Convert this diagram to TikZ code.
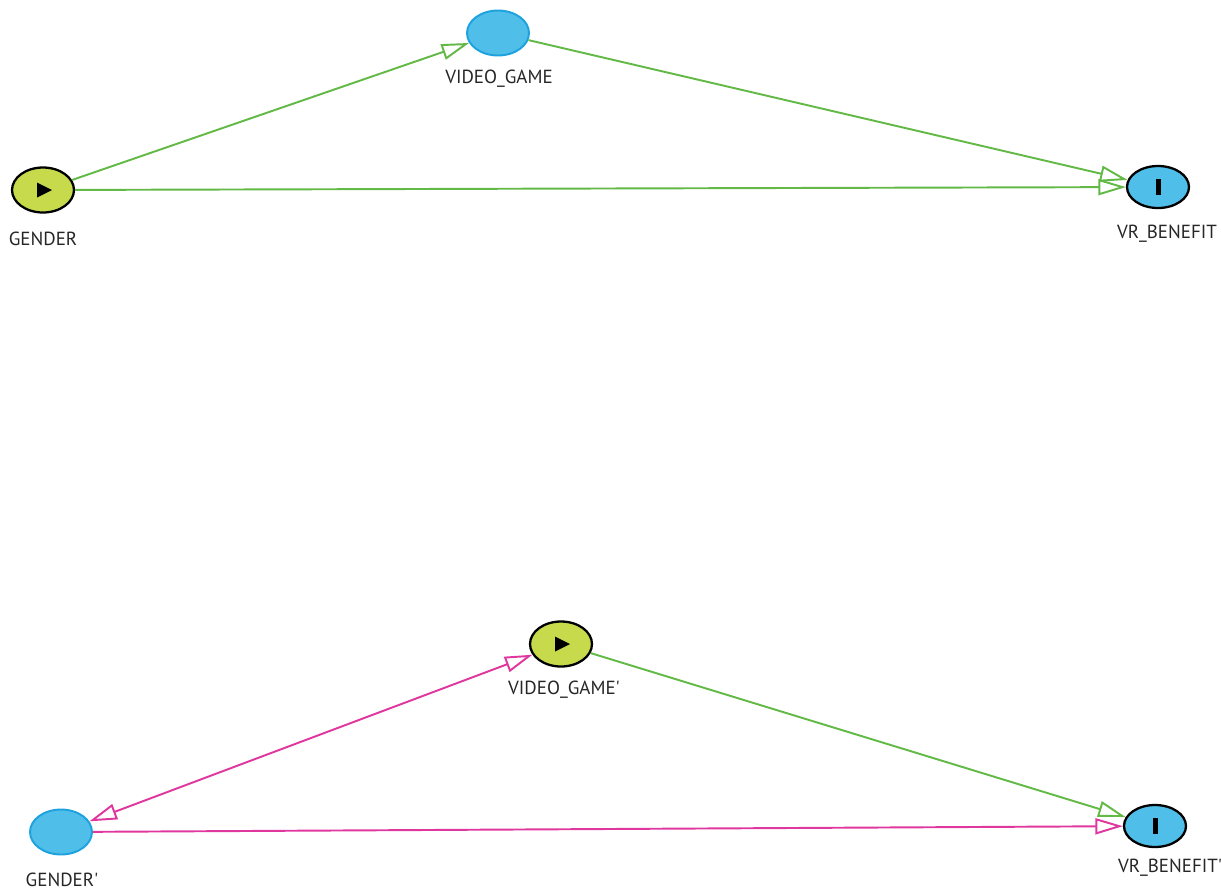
\documentclass[tikz,border=0pt]{standalone}
\usepackage{fontspec}
\setmainfont{PT Sans}
\usepackage{tikz}
\usetikzlibrary{shapes.geometric,arrows.meta}

\definecolor{edgegreen}{HTML}{62B946}
\definecolor{edgepink}{HTML}{E0379E}
\definecolor{nodegreen}{HTML}{C6DA4B}
\definecolor{nodeblue}{HTML}{4FBEE9}
\definecolor{rimblue}{HTML}{1DA2DF}
\definecolor{labelgrey}{HTML}{262626}

\tikzset{
  var/.style={ellipse,minimum width=1.24cm,minimum height=0.9cm,inner sep=0pt},
  exposure/.style={var,fill=nodegreen,draw=black,line width=1.3pt,
    path picture={\fill[black] ([shift={(-6,-7.5)}]path picture bounding box.center)
      -- ([shift={(-6,7.5)}]path picture bounding box.center)
      -- ([shift={(9,0)}]path picture bounding box.center) -- cycle;}},
  outcome/.style={var,minimum height=0.84cm,fill=nodeblue,draw=black,line width=1.3pt,
    path picture={\fill[black] ([shift={(-2.5,-8)}]path picture bounding box.center)
      rectangle ([shift={(2.5,8)}]path picture bounding box.center);}},
  ancestor/.style={var,fill=nodeblue,draw=rimblue,line width=1.1pt},
  lbl/.style={font=\fontsize{10.8}{12}\selectfont,text=labelgrey,inner sep=0pt},
  tip/.tip={Triangle[open,length=5.5mm,width=3.2mm,line width=1.1pt]},
  causal/.style={draw=edgegreen,line width=1.1pt,-tip},
  biasing/.style={draw=edgepink,line width=1.1pt,-tip},
}

\begin{document}
\begin{tikzpicture}[x=0.02cm,y=-0.02cm]
\useasboundingbox (0,0) rectangle (1221,890);

% first graph
\node[exposure] (gender) at (43,190) {};
\node[ancestor] (videogame) at (498,33) {};
\node[outcome] (vrbenefit) at (1158,187) {};
\node[lbl] (gender-l) at (43,239) {GENDER};
\node[lbl] (videogame-l) at (499,79) {VIDEO\_GAME};
\node[lbl] (vrbenefit-l) at (1167,234) {VR\_BENEFIT};

\draw[causal] (gender) -- (videogame);
\draw[causal] (videogame) -- (vrbenefit);
\draw[causal] (gender) -- (vrbenefit);

% second graph
\node[ancestor] (gender2) at (61,832) {};
\node[exposure] (videogame2) at (561,644) {};
\node[outcome] (vrbenefit2) at (1155,826) {};
\node[lbl] (gender2-l) at (62,880) {GENDER\textquotesingle};
\node[lbl] (videogame2-l) at (564,690) {VIDEO\_GAME\textquotesingle};
\node[lbl] (vrbenefit2-l) at (1170,868) {VR\_BENEFIT\textquotesingle};

\draw[biasing,tip-tip] (gender2) -- (videogame2);
\draw[biasing] (gender2) -- (vrbenefit2);
\draw[causal] (videogame2) -- (vrbenefit2);
\end{tikzpicture}
\end{document}
